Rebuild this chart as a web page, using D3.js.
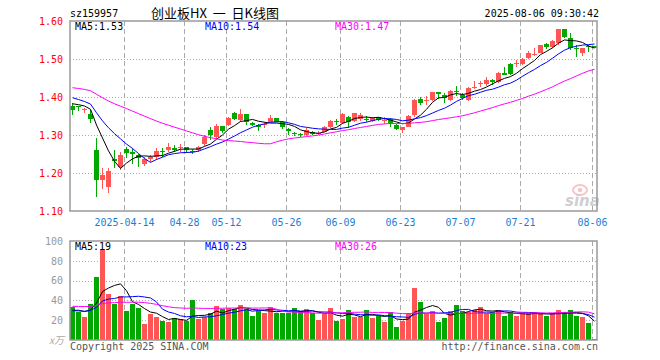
<!DOCTYPE html>
<html><head><meta charset="utf-8">
<script src="https://cdn.jsdelivr.net/npm/d3@7"></script>
<style>body{margin:0;background:#fff}svg{display:block}</style>
</head><body>
<svg id="c" width="660" height="360"></svg>
<script>
const dates = ["03-31",
"04-01","04-02","04-03","04-07","04-08","04-09","04-10","04-11","04-14","04-15","04-16","04-17","04-18","04-21","04-22","04-23","04-24","04-25","04-28","04-29","04-30",
"05-06","05-07","05-08","05-09","05-12","05-13","05-14","05-15","05-16","05-19","05-20","05-21","05-22","05-23","05-26","05-27","05-28","05-29","05-30",
"06-03","06-04","06-05","06-06","06-09","06-10","06-11","06-12","06-13","06-16","06-17","06-18","06-19","06-20","06-23","06-24","06-25","06-26","06-27","06-30",
"07-01","07-02","07-03","07-04","07-07","07-08","07-09","07-10","07-11","07-14","07-15","07-16","07-17","07-18","07-21","07-22","07-23","07-24","07-25","07-28","07-29","07-30","07-31",
"08-01","08-04","08-05","08-06"];
const open = [1.377,1.376,1.365,1.354,1.261,1.182,1.164,1.237,1.217,1.263,1.254,1.247,1.224,1.238,1.243,1.259,1.261,1.267,1.265,1.268,1.259,1.261,1.276,1.313,1.296,1.324,1.326,1.357,1.339,1.354,1.331,1.326,1.326,1.335,1.344,1.335,1.315,1.306,1.302,1.300,1.309,1.303,1.309,1.321,1.337,1.332,1.347,1.338,1.341,1.343,1.336,1.347,1.337,1.341,1.326,1.313,1.322,1.353,1.395,1.390,1.392,1.412,1.406,1.392,1.415,1.405,1.392,1.423,1.434,1.434,1.445,1.440,1.462,1.487,1.486,1.486,1.502,1.510,1.517,1.539,1.531,1.541,1.578,1.554,1.530,1.515,1.534,1.533];
const high = [1.383,1.376,1.372,1.366,1.293,1.214,1.214,1.260,1.256,1.269,1.265,1.251,1.243,1.247,1.265,1.265,1.280,1.274,1.276,1.268,1.262,1.271,1.300,1.322,1.329,1.324,1.348,1.361,1.368,1.354,1.335,1.330,1.334,1.353,1.345,1.337,1.318,1.309,1.306,1.318,1.311,1.311,1.323,1.340,1.341,1.358,1.350,1.358,1.357,1.350,1.348,1.348,1.348,1.346,1.328,1.322,1.353,1.394,1.401,1.403,1.414,1.412,1.410,1.418,1.430,1.410,1.427,1.443,1.443,1.452,1.447,1.466,1.480,1.490,1.497,1.503,1.520,1.528,1.538,1.541,1.551,1.578,1.578,1.568,1.537,1.530,1.536,1.535];
const low = [1.353,1.362,1.359,1.332,1.138,1.157,1.148,1.212,1.208,1.239,1.225,1.215,1.219,1.230,1.234,1.243,1.256,1.254,1.256,1.253,1.250,1.256,1.271,1.287,1.289,1.304,1.324,1.339,1.334,1.326,1.324,1.311,1.318,1.333,1.333,1.315,1.300,1.298,1.296,1.298,1.300,1.300,1.307,1.319,1.326,1.329,1.318,1.335,1.338,1.333,1.333,1.338,1.330,1.320,1.312,1.306,1.320,1.348,1.379,1.379,1.390,1.396,1.385,1.390,1.403,1.393,1.390,1.421,1.427,1.430,1.432,1.438,1.457,1.457,1.479,1.484,1.500,1.508,1.515,1.527,1.529,1.537,1.555,1.524,1.506,1.508,1.519,1.528];
const close = [1.366,1.373,1.368,1.342,1.182,1.195,1.204,1.232,1.247,1.252,1.251,1.239,1.236,1.241,1.258,1.256,1.269,1.261,1.269,1.261,1.255,1.269,1.296,1.300,1.324,1.311,1.346,1.342,1.355,1.335,1.327,1.322,1.329,1.344,1.335,1.320,1.311,1.303,1.299,1.313,1.302,1.306,1.320,1.338,1.334,1.355,1.333,1.357,1.352,1.340,1.344,1.340,1.340,1.332,1.316,1.320,1.350,1.392,1.383,1.393,1.412,1.409,1.397,1.416,1.412,1.398,1.425,1.426,1.437,1.445,1.440,1.464,1.459,1.460,1.489,1.501,1.517,1.514,1.537,1.531,1.548,1.578,1.557,1.528,1.527,1.528,1.531,1.530];
const volume = [33.7,28.6,23.6,36.4,64,92,46.5,36.7,44.4,29.3,36.4,32.6,16.2,26.6,23.6,19.2,17.8,21.9,20.9,19.5,40.4,20.9,22.9,26.9,34.3,31.6,32,31,35.4,31,24.6,29.6,27.6,33.3,27.6,27.6,27.6,32.3,29.3,31.6,26.9,20.5,26.2,32.6,19.5,21.5,30.3,22.9,23.6,30.3,22.6,24.2,18.2,28,13.1,19.5,26.9,52.9,38.4,26.6,29.3,18.2,22.2,29.3,35,29.3,28,30.3,33,27,28,30,24,28,24,27,27,28,26,24,27,30,28,30,24,23,17,1];
// sessions before the visible window (only used for the moving averages)
const priorClose = [1.43,1.44,1.45,1.46,1.47,1.46,1.45,1.44,1.44,1.45,1.44,1.43,1.44,1.45,1.43,1.42,1.42,1.41,1.42,1.40,1.42,1.42,1.41,1.41,1.41,1.385,1.385,1.385,1.39];
const priorVolume = [30,28,32,35,30,29,33,31,30,34,32,30,48,55,60,50,47,32,30,28,30,28,29,31,28,28,30,29,29];
const priceTicks = [1.10,1.20,1.30,1.40,1.50,1.60];
const volumeTicks = [20,40,60,80,100];
const dateTicks = ["04-14","04-28","05-12","05-26","06-09","06-23","07-07","07-21","08-06"];
const dateTickLabels = ["2025-04-14","04-28","05-12","05-26","06-09","06-23","07-07","07-21","08-06"];
const maPeriods = [5,10,30];
const maColors = ["#000000","#0000ff","#ff00ff"];
const maLabelX = [75,205,335];

const svg = d3.select("#c");
const L = 70, R = 597, mT = 21, mB = 211, vT = 241, vB = 340;
const mono = "'DejaVu Sans Mono', monospace";
const RED = "#ff5555", GREEN = "#00a800";

const x = d3.scaleBand().domain(dates).range([69, 597]);
const cx = d => x(d) + 3.5;
const gx = d => x(d) + 1.5;
const y = d3.scaleLinear().domain([1.10, 1.60]).range([mB, mT]);
const yv = d3.scaleLinear().domain([0, 100]).range([vB, vT]);

function ma(series, prior, n) {
  const all = prior.concat(series), off = prior.length;
  return series.map((_, i) => d3.mean(all.slice(off + i - n + 1, off + i + 1)));
}
const priceMA = maPeriods.map(n => ma(close, priorClose, n));
const volMA = maPeriods.map(n => ma(volume, priorVolume, n));

// gridlines
const grid = svg.append("g");
grid.selectAll(".hp").data(priceTicks.slice(1, -1)).join("line")
  .attr("x1", L).attr("x2", R).attr("y1", d => Math.round(y(d)) + 0.5).attr("y2", d => Math.round(y(d)) + 0.5)
  .attr("stroke", "#aaa").attr("stroke-dasharray", "1,2");
grid.selectAll(".hv").data(volumeTicks.slice(0, -1)).join("line")
  .attr("x1", L).attr("x2", R).attr("y1", d => Math.round(yv(d)) + 0.5).attr("y2", d => Math.round(yv(d)) + 0.5)
  .attr("stroke", "#aaa").attr("stroke-dasharray", "1,2");
[[mT, mB], [vT, vB]].forEach(([a, b]) => {
  grid.append("g").selectAll("line").data(dateTicks).join("line")
    .attr("x1", gx).attr("x2", gx).attr("y1", a).attr("y2", b)
    .attr("stroke", "#aaa").attr("stroke-dasharray", "5,3");
});

// sina watermark
const wm = svg.append("g");
wm.append("ellipse").attr("cx", 580).attr("cy", 190).attr("rx", 7).attr("ry", 5).attr("fill", "none").attr("stroke", "#f6c4c4").attr("stroke-width", 2);
wm.append("circle").attr("cx", 580).attr("cy", 190).attr("r", 2.2).attr("fill", "#f6c4c4");
wm.append("text").attr("x", 565).attr("y", 206).text("sina")
  .attr("font-family", "'DejaVu Sans', sans-serif").attr("font-style", "italic").attr("font-weight", "bold")
  .attr("font-size", 15).attr("fill", "#cfcfcf");

// candles
const idx = d3.range(dates.length);
const cg = svg.append("g").attr("shape-rendering", "crispEdges");
const col = i => close[i] >= open[i] ? RED : GREEN;
cg.selectAll(".w").data(idx).join("line")
  .attr("x1", i => cx(dates[i])).attr("x2", i => cx(dates[i]))
  .attr("y1", i => y(high[i])).attr("y2", i => y(low[i]))
  .attr("stroke", col);
cg.selectAll(".b").data(idx).join("rect")
  .attr("x", i => x(dates[i]) + 1).attr("width", 5)
  .attr("y", i => y(Math.max(open[i], close[i])))
  .attr("height", i => Math.max(1, Math.abs(y(open[i]) - y(close[i]))))
  .attr("fill", col);

// volume bars
cg.selectAll(".v").data(idx).join("rect")
  .attr("x", i => x(dates[i]) + 1).attr("width", 5)
  .attr("y", i => yv(volume[i])).attr("height", i => vB - yv(volume[i]))
  .attr("fill", col);

// MA lines
maPeriods.forEach((n, k) => {
  svg.append("path").datum(priceMA[k])
    .attr("d", d3.line().x((d, i) => cx(dates[i])).y(d => y(d)))
    .attr("fill", "none").attr("stroke", maColors[k]).attr("stroke-width", 1);
  svg.append("path").datum(volMA[k])
    .attr("d", d3.line().x((d, i) => cx(dates[i])).y(d => yv(d)))
    .attr("fill", "none").attr("stroke", maColors[k]).attr("stroke-width", 1);
});

// frames
svg.append("rect").attr("x", L).attr("y", mT).attr("width", R - L).attr("height", mB - mT)
  .attr("fill", "none").attr("stroke", "#999").attr("stroke-width", 1.5);
svg.append("rect").attr("x", L).attr("y", vT).attr("width", R - L).attr("height", vB - vT)
  .attr("fill", "none").attr("stroke", "#999").attr("stroke-width", 1.5);

// axes
const ay = svg.append("g").attr("transform", `translate(${L - 4},0)`)
  .call(d3.axisLeft(y).tickValues(priceTicks).tickSize(0).tickFormat(d3.format(".2f")));
ay.select(".domain").remove();
ay.selectAll("text").attr("fill", "#ff0000").attr("font-family", mono).attr("font-size", 10);
const av = svg.append("g").attr("transform", `translate(${L - 4},0)`)
  .call(d3.axisLeft(yv).tickValues(volumeTicks).tickSize(0));
av.select(".domain").remove();
av.selectAll("text").attr("fill", "#999").attr("font-family", mono).attr("font-size", 10);
svg.append("text").attr("x", L - 6).attr("y", vB + 4).attr("text-anchor", "end")
  .attr("font-family", "'Noto Sans CJK SC', sans-serif").attr("font-size", 10).attr("font-style", "italic")
  .attr("fill", "#aaa").text("x万");

svg.append("g").selectAll("text").data(dateTicks).join("text")
  .attr("x", gx).attr("y", 225.5).attr("text-anchor", "middle")
  .attr("font-family", mono).attr("font-size", 10).attr("fill", "#1a7fd4")
  .text((d, i) => dateTickLabels[i]);

// MA legends
const last = dates.length - 1;
maPeriods.forEach((n, k) => {
  svg.append("text").attr("x", maLabelX[k]).attr("y", 29.5)
    .attr("font-family", mono).attr("font-size", 10).attr("fill", maColors[k])
    .text(`MA${n}:${d3.format(".2f")(priceMA[k][last])}`);
  svg.append("text").attr("x", maLabelX[k]).attr("y", 249.5)
    .attr("font-family", mono).attr("font-size", 10).attr("fill", maColors[k])
    .text(`MA${n}:${Math.round(volMA[k][last])}`);
});

// header / footer
svg.append("text").attr("x", 70).attr("y", 16.5).attr("font-family", mono).attr("font-size", 10).text("sz159957");
svg.append("text").attr("x", 151).attr("y", 18).attr("font-family", "'Noto Sans CJK SC', sans-serif")
  .attr("font-size", 13).style("white-space", "pre").text("创业板HX  一  日K线图");
svg.append("text").attr("x", 599).attr("y", 16.5).attr("text-anchor", "end").attr("font-family", mono)
  .attr("font-size", 10).text("2025-08-06 09:30:42");
svg.append("text").attr("x", 70).attr("y", 349.5).attr("font-family", mono).attr("font-size", 10)
  .attr("fill", "#555").text("Copyright 2025 SINA.COM");
svg.append("text").attr("x", 598).attr("y", 349.5).attr("text-anchor", "end").attr("font-family", mono)
  .attr("font-size", 10).attr("fill", "#555").text("http://finance.sina.com.cn");
</script>
</body></html>
